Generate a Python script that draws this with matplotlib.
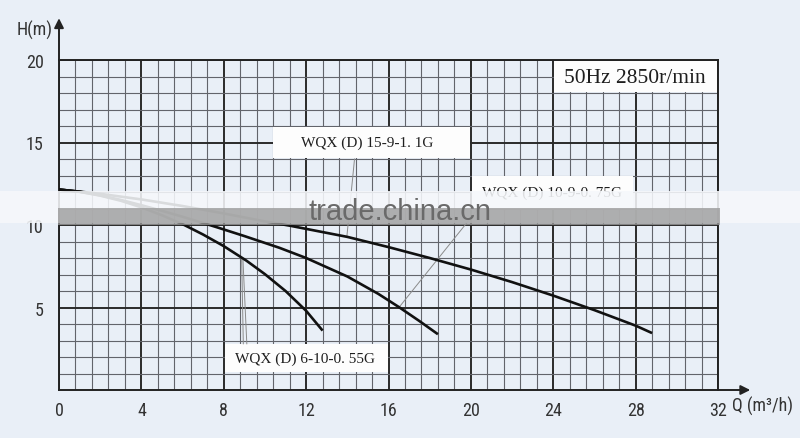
import matplotlib
matplotlib.use('Agg')
import matplotlib.pyplot as plt
from matplotlib import font_manager
from matplotlib.font_manager import FontProperties
from matplotlib.patches import Rectangle
from matplotlib.ticker import MultipleLocator

# pump curves (Q in m3/h, H in m)
q_a = [0, 1, 2, 3, 4, 5, 6.1, 7, 8, 9.1, 10, 11, 12, 12.8]
h_a = [12.15, 12.01, 11.78, 11.47, 11.07, 10.59, 9.99, 9.42, 8.72, 7.84, 7.02, 6.0, 4.8, 3.6]

q_b = [0, 1, 2, 3, 4, 5, 6, 7, 7.7, 9, 10.7, 12, 14, 15.5, 16.5, 17.5, 18.4]
h_b = [12.15, 12.02, 11.8, 11.52, 11.2, 10.86, 10.5, 10.12, 9.85, 9.33, 8.62, 8.0, 6.88,
       5.83, 5.03, 4.18, 3.38]

q_c = [0, 2, 4, 6, 8, 10, 11.2, 14, 16, 18, 20, 22, 24, 26, 28, 28.8]
h_c = [12.15, 11.89, 11.55, 11.15, 10.7, 10.22, 9.96, 9.28, 8.66, 8.0, 7.3, 6.54, 5.72,
       4.84, 3.9, 3.45]

x_ticks = [0, 4, 8, 12, 16, 20, 24, 28, 32]
y_ticks = [5, 10, 15, 20]

label_a = 'WQX (D) 6-10-0. 55G'
label_b = 'WQX (D) 10-9-0. 75G'
label_c = 'WQX (D) 15-9-1. 1G'
speed_label = '50Hz 2850r/min'
watermark = 'trade.china.cn'

BG = '#e9eff7'
INK = '#222222'


def pick_font(names, default='DejaVu Sans'):
    for name in names:
        try:
            font_manager.findfont(FontProperties(family=name), fallback_to_default=False)
            return name
        except ValueError:
            continue
    return default


narrow = pick_font(['Liberation Sans Narrow', 'DejaVu Sans Condensed', 'Roboto Condensed'])
tick_size = 13 if narrow != 'DejaVu Sans' else 11.5
serif = pick_font(['Liberation Serif', 'DejaVu Serif'])
sans = pick_font(['Liberation Sans', 'Arial', 'DejaVu Sans'])

fig = plt.figure(figsize=(8, 4.39), dpi=100, facecolor=BG)
ax = fig.add_axes([59 / 800, 48 / 439, 659 / 800, 330 / 439])
ax.set_facecolor(BG)
ax.set_xlim(0, 32)
ax.set_ylim(0, 20)

# grid paper
ax.set_xticks(x_ticks)
ax.set_yticks(y_ticks)
ax.xaxis.set_minor_locator(MultipleLocator(0.8))
ax.yaxis.set_minor_locator(MultipleLocator(1))
ax.set_axisbelow(True)
ax.grid(which='minor', color='#62646b', lw=0.8)
ax.grid(which='major', color='#2a2a2a', lw=1.4)
ax.tick_params(which='both', length=0)
ax.tick_params(axis='x', pad=8, labelsize=tick_size, labelcolor='#333333')
ax.tick_params(axis='y', pad=11, labelsize=tick_size, labelcolor='#333333')
for lab in ax.get_xticklabels() + ax.get_yticklabels():
    lab.set_family(narrow)
for sp in ax.spines.values():
    sp.set_color(INK)
    sp.set_linewidth(1.4)

# white label boxes on top of the grid (edge lines stay visible)
for x0, x1, y0, y1 in [(24.06, 31.95, 18.06, 19.95), (10.4, 19.94, 14.06, 15.94),
                       (20.06, 27.86, 11.0, 12.95), (8.06, 15.97, 1.1, 2.8)]:
    ax.add_patch(Rectangle((x0, y0), x1 - x0, y1 - y0, facecolor='#fdfdfd',
                           edgecolor='none', zorder=1.5))

ax.text(27.95, 18.95, speed_label, family=serif, fontsize=15.5, ha='center', va='center',
        color='#1e1e1e', zorder=4)
ax.text(14.95, 15.0, label_c, family=serif, fontsize=11, ha='center', va='center',
        color='#1e1e1e', zorder=4)
ax.text(23.95, 12.0, label_b, family=serif, fontsize=11, ha='center', va='center',
        color='#1e1e1e', zorder=4)
ax.text(11.95, 1.95, label_a, family=serif, fontsize=11, ha='center', va='center',
        color='#1e1e1e', zorder=4)

# leader lines
lead = dict(color='#8a8a8a', lw=0.7, zorder=2.5)
ax.plot([14.35, 13.98], [14.0, 9.32], **lead)
ax.plot([20.36, 16.55], [11.0, 5.07], **lead)
ax.plot([8.95, 8.87], [2.8, 7.95], **lead)
ax.plot([9.12, 8.93], [2.8, 7.95], **lead)

# curves
for q, h in [(q_a, h_a), (q_b, h_b), (q_c, h_c)]:
    ax.plot(q, h, color='#111111', lw=1.9, solid_capstyle='butt', solid_joinstyle='round',
            zorder=3)

# axis arrows
ax.annotate('', xy=(0, 22.7), xytext=(0, 19.9), annotation_clip=False,
            arrowprops=dict(arrowstyle='-|>', color=INK, lw=1.4, mutation_scale=14))
ax.annotate('', xy=(33.7, 0), xytext=(31.9, 0), annotation_clip=False,
            arrowprops=dict(arrowstyle='-|>', color=INK, lw=1.4, mutation_scale=14))

fig.text(35 / 800, 1 - 30 / 439, 'H(m)', family=narrow, fontsize=tick_size, color='#333333',
         ha='center', va='center')
fig.text(763 / 800, 1 - 406 / 439, 'Q (m³/h)', family=[narrow, 'DejaVu Sans'], fontsize=tick_size,
         color='#333333', ha='center', va='center')

# watermark band
fig.patches.append(Rectangle((0, 1 - 224 / 439), 1, 32 / 439, transform=fig.transFigure,
                             facecolor='#f6f8fb', alpha=0.88, edgecolor='none', zorder=5))
fig.patches.append(Rectangle((58 / 800, 1 - 226 / 439), 662 / 800, 17 / 439,
                             transform=fig.transFigure, facecolor='#9a9a9a', alpha=0.78,
                             edgecolor='none', zorder=6))
fig.text(0.5, 1 - 220 / 439, watermark, family=sans, fontsize=21, color='#6a6a6a',
         ha='center', va='baseline', zorder=7)

fig.savefig('out.png', dpi=100, facecolor=BG)
